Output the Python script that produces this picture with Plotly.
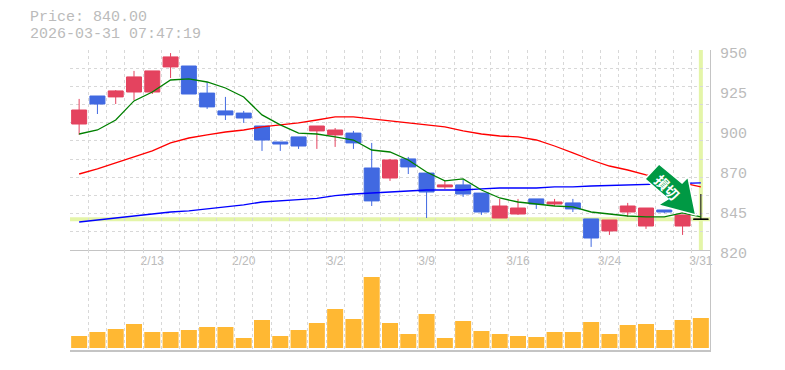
import plotly.graph_objects as go

dates = ["2/6","2/9","2/10","2/12","2/13","2/16","2/17","2/18","2/19","2/20","2/24","2/25","2/26","2/27","3/2",
         "3/3","3/4","3/5","3/6","3/9","3/10","3/11","3/12","3/13","3/16","3/17","3/18","3/19","3/23","3/24",
         "3/25","3/26","3/27","3/30","3/31"]
opens = [901.9,920.1,919.5,922.7,922.7,939.0,939.6,922.0,910.4,909.0,900.6,890.2,893.5,897.4,894.8,896.0,873.3,866.8,879.2,870.0,
         861.0,862.3,857.0,840.8,843.4,853.2,849.9,850.6,840.2,832.4,844.7,835.6,846.0,835.6,840.0]
closes = [911.0,914.9,923.4,932.5,936.4,945.5,921.4,913.0,907.8,905.8,891.5,888.9,887.6,900.6,898.0,889.6,851.9,878.5,874.0,857.7,
          862.3,856.4,844.7,848.6,847.3,849.9,851.2,846.7,827.8,839.5,848.6,847.3,844.7,842.8,840.0]
highs = [918.2,920.1,924.0,936.4,936.4,948.0,939.6,929.2,919.5,910.4,900.6,890.2,893.5,900.6,899.3,897.4,889.6,879.2,880.5,870.0,
         865.5,865.5,857.0,853.2,853.2,853.2,853.2,853.2,840.2,839.5,850.6,847.3,846.0,842.8,856.4]
lows = [894.8,908.4,914.9,917.5,921.4,931.8,921.4,911.7,904.5,902.6,884.4,884.4,885.7,885.7,887.0,885.7,848.6,864.9,869.4,840.8,
        859.7,854.5,842.8,840.8,842.8,846.7,848.6,844.7,822.0,829.8,841.5,833.7,844.0,829.8,840.0]
ma_short = [895.4,898.0,904.5,916.9,922.7,930.5,931.2,929.2,925.3,919.5,907.8,901.3,896.0,895.4,893.5,891.5,885.0,883.7,878.5,870.7,
            864.9,866.2,859.0,853.8,851.2,849.9,848.6,848.0,844.7,843.4,842.1,841.5,841.5,844.1,841.5]
ma_mid = [869.4,872.7,876.6,880.5,884.4,889.6,892.8,894.8,896.7,898.0,900.0,901.3,902.6,904.5,906.5,906.5,905.2,903.9,902.6,901.3,
          900.0,897.4,895.4,894.1,893.5,891.5,887.6,883.1,878.5,874.6,872.0,868.8,866.2,863.6,861.0]
ma_long = [838.2,839.5,840.8,842.1,843.4,844.7,845.4,846.7,848.0,849.3,851.2,852.2,852.8,853.5,855.4,856.4,857.0,857.7,858.4,859.0,
           859.0,859.0,859.7,860.3,860.3,860.3,861.0,861.0,861.6,861.9,862.3,862.3,862.9,862.9,863.6]
volumes = [12,16,19,24,16,16,18,21,21,10,28,12,18,25,39,29,71,25,14,34,10,27,17,14,12,11,16,16,26,14,23,24,18,28,30]
y_tick_values = [820,846,872,898,924,950]
y_tick_labels = ["820","845","870","900","925","950"]
x_label_index = [4,9,14,19,24,29,34]
last_price = 840.0
info_price = "Price: 840.00"
info_time = "2026-03-31 07:47:19"
arrow_label = "損切"

GRID = "#d8d8d8"
AXIS = "#c4c4c4"
TEXT = "#bbbbbb"
BAND = "#e4f5a8"
MONO = "Liberation Mono, DejaVu Sans Mono, monospace"
N = len(dates)
xs = list(range(N))

fig = go.Figure()
for values, color in [(ma_long, "#0000ff"), (ma_mid, "#ff0000"), (ma_short, "#008000")]:
    fig.add_trace(go.Scatter(x=xs, y=values, mode="lines", line=dict(color=color, width=1.3),
                             xaxis="x", yaxis="y", hoverinfo="skip"))
fig.add_trace(go.Candlestick(
    x=xs[:-1], open=opens[:-1], high=highs[:-1], low=lows[:-1], close=closes[:-1],
    increasing=dict(line=dict(color="#e4435f", width=1), fillcolor="#e4435f"),
    decreasing=dict(line=dict(color="#4169e1", width=1), fillcolor="#4169e1"),
    whiskerwidth=0, xaxis="x", yaxis="y"))
fig.add_trace(go.Candlestick(
    x=xs[-1:], open=opens[-1:], high=highs[-1:], low=lows[-1:], close=closes[-1:],
    increasing=dict(line=dict(color="#000000", width=1), fillcolor="#000000"),
    decreasing=dict(line=dict(color="#000000", width=1), fillcolor="#000000"),
    whiskerwidth=0, xaxis="x", yaxis="y"))
fig.add_trace(go.Bar(x=xs, y=volumes, marker=dict(color="#ffb833", line=dict(width=0)),
                     width=0.875, xaxis="x2", yaxis="y2"))

xcommon = dict(range=[-0.5, N - 0.5], showgrid=False, zeroline=False, ticklen=0, automargin=False,
               minor=dict(showgrid=True, gridcolor=GRID, griddash="3px,3px", gridwidth=1,
                          tick0=-0.5, dtick=1, ticklen=0),
               rangeslider=dict(visible=False))
fig.update_layout(
    width=785, height=370, margin=dict(l=70, r=75, t=50, b=20),
    paper_bgcolor="white", plot_bgcolor="white", showlegend=False,
    boxmode="overlay", boxgap=0.18, boxgroupgap=0,
    xaxis=dict(**xcommon, domain=[0, 1], anchor="y", tickmode="array", tickvals=x_label_index,
               ticktext=[dates[i] for i in x_label_index],
               tickfont=dict(family="Liberation Sans", size=12, color=TEXT),
               showline=True, linecolor=AXIS, linewidth=1, side="bottom"),
    xaxis2=dict(**xcommon, domain=[0, 1], anchor="y2", tickmode="array", tickvals=[], showticklabels=False,
                showline=True, linecolor=AXIS, linewidth=2),
    yaxis=dict(domain=[1 / 3, 1], range=[820, 950], side="right", anchor="x", tickmode="array",
               tickvals=y_tick_values, ticktext=y_tick_labels, showgrid=False, zeroline=False, automargin=False,
               tickfont=dict(family=MONO, size=15, color=TEXT), ticklen=0, ticklabelshift=3,
               ticklabelstandoff=6, showline=True, linecolor=AXIS, linewidth=1,
               minor=dict(showgrid=True, gridcolor=GRID, griddash="3px,3px", gridwidth=1,
                          tick0=820, dtick=130 / 11, ticklen=0)),
    yaxis2=dict(domain=[0, 1 / 3], range=[-2, 98], side="right", anchor="x2", showgrid=False, zeroline=False,
                automargin=False, showticklabels=False, ticklen=0, showline=True, linecolor=AXIS, linewidth=1),
    shapes=[
        dict(type="line", xref="x domain", yref="y", x0=0, x1=1, y0=last_price, y1=last_price,
             line=dict(color=BAND, width=4), layer="below"),
        dict(type="line", xref="x", yref="y domain", x0=N - 1, x1=N - 1, y0=0, y1=1,
             line=dict(color=BAND, width=4), layer="below"),
        dict(type="path", xref="paper", yref="paper", layer="above",
             path="M 0.9203 0.6200 L 0.9563 0.5567 L 0.9656 0.5767 L 0.9777 0.4500 "
                  "L 0.9188 0.4833 L 0.9344 0.5033 L 0.8984 0.5700 Z",
             fillcolor="#009944", line=dict(color="white", width=1.5)),
    ],
    annotations=[
        dict(text=info_price, xref="paper", yref="paper", x=-0.0656, y=1.1093, xanchor="left", yanchor="middle",
             showarrow=False, font=dict(family=MONO, size=15, color=TEXT)),
        dict(text=info_time, xref="paper", yref="paper", x=-0.0656, y=1.0527, xanchor="left", yanchor="middle",
             showarrow=False, font=dict(family=MONO, size=15, color=TEXT)),
        dict(text=arrow_label, xref="paper", yref="paper", x=0.9328, y=0.5417, xanchor="center", yanchor="middle",
             textangle=45, showarrow=False,
             font=dict(family="Noto Sans CJK JP", size=14, color="white", weight="bold")),
    ],
)
fig.write_html("out.html", config=dict(displayModeBar=False),
               post_script="document.body.style.margin='0';document.body.style.overflow='hidden';")
